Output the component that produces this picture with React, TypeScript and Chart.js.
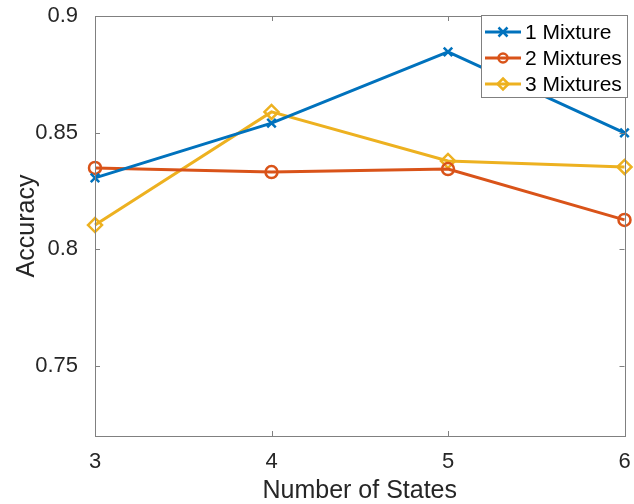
import React, { useEffect, useRef } from "react";
import { Chart, registerables } from "chart.js";

Chart.register(...registerables);

const states = [3, 4, 5, 6];
const oneMixture = [0.8306, 0.8541, 0.8846, 0.8499];
const twoMixtures = [0.8349, 0.8331, 0.8344, 0.8126];
const threeMixtures = [0.8104, 0.8589, 0.8379, 0.8353];
const seriesNames = ["1 Mixture", "2 Mixtures", "3 Mixtures"];
const seriesColors = ["#0072BD", "#D95319", "#EDB120"];
const seriesMarkers = ["crossRot", "circle", "rectRot"];
const xTicks = [3, 4, 5, 6];
const yTicks = [0.75, 0.8, 0.85, 0.9];
const yTickLabels = ["0.75", "0.8", "0.85", "0.9"];

const FONT = "'Liberation Sans', Helvetica, Arial, sans-serif";
const TEXT = "#262626";
const AXIS = "#808080";

function drawMarker(ctx: CanvasRenderingContext2D, style: string, x: number, y: number, r: number) {
  ctx.beginPath();
  if (style === "crossRot") {
    ctx.moveTo(x - r, y - r);
    ctx.lineTo(x + r, y + r);
    ctx.moveTo(x - r, y + r);
    ctx.lineTo(x + r, y - r);
  } else if (style === "circle") {
    ctx.arc(x, y, r, 0, Math.PI * 2);
  } else {
    ctx.moveTo(x, y - r - 1);
    ctx.lineTo(x + r + 1, y);
    ctx.lineTo(x, y + r + 1);
    ctx.lineTo(x - r - 1, y);
    ctx.closePath();
  }
  ctx.stroke();
}

const boxPlugin = {
  id: "matlabBox",
  afterDraw(chart: any) {
    const { ctx, chartArea } = chart;
    const { left, right, top, bottom } = chartArea;
    const xs = chart.scales.x;
    const ys = chart.scales.y;
    ctx.save();
    ctx.strokeStyle = AXIS;
    ctx.lineWidth = 1;
    ctx.strokeRect(Math.round(left) + 0.5, Math.round(top) + 0.5, Math.round(right - left), Math.round(bottom - top));
    const tl = 5;
    ctx.beginPath();
    xTicks.forEach((v) => {
      const px = Math.round(xs.getPixelForValue(v)) + 0.5;
      ctx.moveTo(px, bottom);
      ctx.lineTo(px, bottom - tl);
      ctx.moveTo(px, top);
      ctx.lineTo(px, top + tl);
    });
    yTicks.forEach((v) => {
      const py = Math.round(ys.getPixelForValue(v)) + 0.5;
      ctx.moveTo(left, py);
      ctx.lineTo(left + tl, py);
      ctx.moveTo(right, py);
      ctx.lineTo(right - tl, py);
    });
    ctx.stroke();

    // legend
    const lx = 481.5, ly = 15.5, lw = 146, lh = 82;
    ctx.fillStyle = "#ffffff";
    ctx.fillRect(lx, ly, lw, lh);
    ctx.strokeStyle = AXIS;
    ctx.strokeRect(lx, ly, lw, lh);
    const rows = [32, 58, 84];
    chart.data.datasets.forEach((ds: any, i: number) => {
      const y = rows[i];
      ctx.strokeStyle = ds.borderColor;
      ctx.lineWidth = 3;
      ctx.beginPath();
      ctx.moveTo(485, y);
      ctx.lineTo(521, y);
      ctx.stroke();
      ctx.lineWidth = 2.5;
      drawMarker(ctx, ds.pointStyle, 503, y, 4.5);
      ctx.fillStyle = "#000000";
      ctx.font = `21px ${FONT}`;
      ctx.textBaseline = "middle";
      ctx.textAlign = "left";
      ctx.fillText(ds.label, 525, y + 1);
    });
    ctx.restore();
  },
};

const zeroPad = (s: any) => {
  s.paddingLeft = 0;
  s.paddingRight = 0;
  s.paddingTop = 0;
  s.paddingBottom = 0;
};

export default function App() {
  const ref = useRef<HTMLCanvasElement>(null);
  useEffect(() => {
    const series = [oneMixture, twoMixtures, threeMixtures];
    const chart = new Chart(ref.current!, {
      type: "line",
      data: {
        datasets: series.map((vals, i) => ({
          label: seriesNames[i],
          data: vals.map((v, j) => ({ x: states[j], y: v })),
          borderColor: seriesColors[i],
          backgroundColor: "rgba(0,0,0,0)",
          borderWidth: 3,
          pointStyle: seriesMarkers[i] as any,
          pointRadius: i === 2 ? 7 : 6,
          pointBorderWidth: 2.5,
          pointBorderColor: seriesColors[i],
          pointBackgroundColor: "rgba(0,0,0,0)",
          tension: 0,
          clip: false as any,
        })),
      },
      options: {
        responsive: false,
        animation: false,
        layout: { padding: { top: 16, right: 7, left: 0, bottom: 0 } },
        plugins: { legend: { display: false }, tooltip: { enabled: false } },
        scales: {
          x: {
            type: "linear",
            min: 3,
            max: 6,
            grid: { display: false },
            border: { display: false },
            afterBuildTicks: (s: any) => {
              s.ticks = xTicks.map((v) => ({ value: v }));
            },
            afterFit: (s: any) => {
              s.height = 68;
              zeroPad(s);
            },
            ticks: {
              color: TEXT,
              font: { family: FONT, size: 22 },
              padding: 5,
              maxRotation: 0,
              callback: (v: any) => String(v),
            },
            title: {
              display: true,
              text: "Number of States",
              color: TEXT,
              font: { family: FONT, size: 25, lineHeight: 1 },
              padding: { top: 0, bottom: 0 },
            },
          },
          y: {
            type: "linear",
            min: 0.72,
            max: 0.9,
            grid: { display: false },
            border: { display: false },
            afterBuildTicks: (s: any) => {
              s.ticks = yTicks.map((v) => ({ value: v }));
            },
            afterFit: (s: any) => {
              s.width = 95;
              zeroPad(s);
            },
            ticks: {
              color: TEXT,
              font: { family: FONT, size: 22 },
              padding: 9,
              callback: (v: any) => {
                const i = yTicks.indexOf(v);
                return i >= 0 ? yTickLabels[i] : "";
              },
            },
            title: {
              display: true,
              text: "Accuracy",
              color: TEXT,
              font: { family: FONT, size: 25, lineHeight: 1 },
              padding: { top: 15, bottom: 0 },
            },
          },
        },
      },
      plugins: [boxPlugin],
    });
    return () => chart.destroy();
  }, []);
  return (
    <div style={{ position: "absolute", left: 0, top: 0, width: 634, height: 504, background: "#fff" }}>
      <canvas ref={ref} width={634} height={504} style={{ width: 634, height: 504 }} />
    </div>
  );
}
